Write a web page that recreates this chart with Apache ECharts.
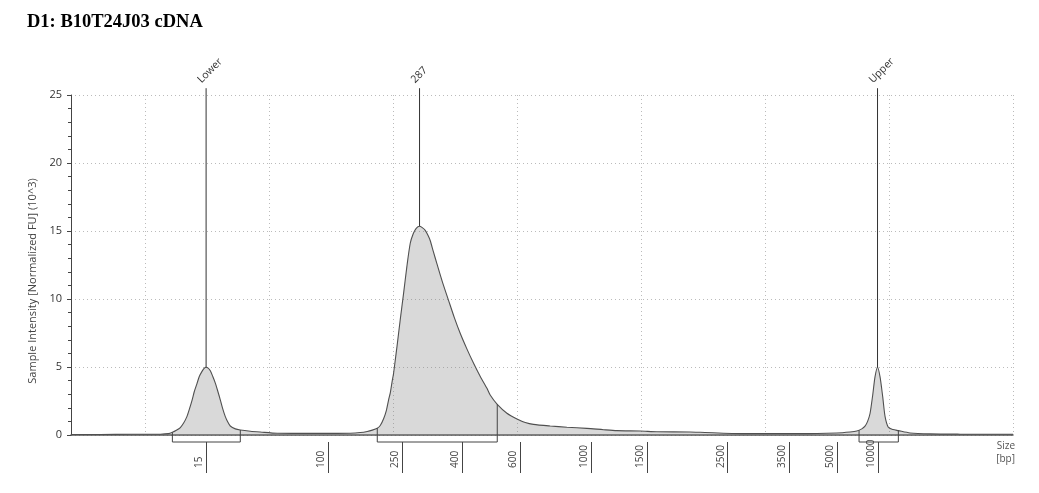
<!DOCTYPE html>
<html>
<head>
<meta charset="utf-8">
<script src="https://cdn.jsdelivr.net/npm/echarts@6/dist/echarts.min.js"></script>
<style>
html,body{margin:0;padding:0;background:#fff;}
#chart{width:1039px;height:493px;}
</style>
</head>
<body>
<div id="chart"></div>
<script>
// Migration position (arbitrary linear units, grid every 10) and intensity (10^3 FU)
const position = [4.0,6.37,8.79,11.21,11.85,12.18,12.5,12.82,13.10,13.35,13.55,13.77,13.95,14.17,14.35,14.57,14.76,14.90,15.04,15.24,15.44,15.65,15.85,16.05,16.25,16.45,16.65,16.85,17.26,17.66,18.47,19.27,20.65,22.5,24.92,26.53,27.34,27.9,28.31,28.71,28.95,29.22,29.44,29.62,29.76,29.92,30.02,30.16,30.30,30.56,30.83,31.10,31.37,31.61,31.85,32.12,32.34,32.58,32.82,32.98,33.23,33.52,33.95,34.46,34.92,35.40,35.93,36.48,37.02,37.56,37.82,38.39,39.17,39.98,40.65,41.31,42.66,44.01,45.62,46.96,48.04,49.92,51.27,53.95,54.76,58.23,62.82,65.78,66.85,67.40,67.80,68.06,68.27,68.47,68.69,68.87,69.07,69.27,69.49,69.68,69.94,70.32,70.75,71.69,73.31,75.73,80.0];
const intensity = [0.04,0.04,0.05,0.06,0.1,0.2,0.35,0.55,0.9,1.35,1.9,2.57,3.2,3.8,4.3,4.68,4.92,4.98,4.93,4.72,4.3,3.8,3.2,2.57,1.9,1.35,0.95,0.66,0.45,0.37,0.28,0.22,0.13,0.12,0.12,0.13,0.18,0.26,0.36,0.5,0.7,1.2,1.8,2.57,3.1,4.0,4.5,5.5,6.5,8.46,10.4,12.4,14.1,14.8,15.2,15.35,15.25,15.05,14.65,14.3,13.5,12.6,11.3,9.9,8.65,7.48,6.35,5.27,4.3,3.43,2.94,2.25,1.6,1.18,0.92,0.78,0.66,0.57,0.49,0.39,0.32,0.29,0.24,0.22,0.2,0.1,0.1,0.15,0.22,0.29,0.45,0.65,1.0,1.6,3.0,4.29,4.98,4.29,2.8,1.35,0.57,0.4,0.32,0.15,0.08,0.06,0.05];

// Size ladder tick positions and labels
const sizeTickPos = [14.90,24.78,30.70,35.54,40.27,45.94,50.48,56.98,61.94,65.81,69.10];
const sizeTickLabels = ['15','100','250','400','600','1000','1500','2500','3500','5000','10000'];
const gridPos = [10,20,30,40,50,60,70,80];

// Peak markers
const markerNames = ['Lower','287','Upper'];
const markerPos = [14.90,32.12,69.07];
const markerPeak = [4.98,15.35,4.98];
const markerTop = 25.5;

// Integration regions
const regionStart = [12.18,28.71,67.58];
const regionEnd = [17.66,38.39,70.75];
const regionStartH = [0.2,0.5,0.36];
const regionEndH = [0.37,2.25,0.32];
const regionBottom = -0.515;

const chart = echarts.init(document.getElementById('chart'));
const txtFont = 'Open Sans';

const curve = position.map((p,i)=>[p,intensity[i]]);

const series = [{
  type:'line', data:curve, smooth:0.25, symbol:'none', clip:false,
  lineStyle:{color:'#505050',width:1.1},
  areaStyle:{color:'rgba(130,130,130,0.3)',opacity:1},
  z:2
}];
markerNames.forEach((n,i)=>{
  series.push({
    type:'line', clip:false, symbol:'circle', symbolSize:0, showSymbol:true,
    lineStyle:{color:'#333',width:1}, itemStyle:{color:'#333'},
    data:[[markerPos[i],markerPeak[i]],{value:[markerPos[i],markerTop],label:{
      show:true, formatter:n, position:'top', distance:0, rotate:45,
      align:'left', verticalAlign:'bottom', offset:[0,-4],
      color:'#333', fontSize:10.5, fontFamily:txtFont
    }}],
    z:5, silent:true
  });
});
regionStart.forEach((s,i)=>{
  series.push({
    type:'line', clip:false, symbol:'none',
    lineStyle:{color:'#444',width:1},
    data:[[s,regionStartH[i]],[s,regionBottom],[regionEnd[i],regionBottom],[regionEnd[i],regionEndH[i]]],
    z:4, silent:true
  });
});

chart.setOption({
  animation:false,
  title:{text:'D1: B10T24J03 cDNA',left:22,top:8,
    textStyle:{fontFamily:'Liberation Serif',fontWeight:'bold',fontSize:18.5,color:'#000'}},
  grid:{left:71,top:95,width:942,height:340,containLabel:false},
  xAxis:[{
    type:'value', min:4, max:80, position:'bottom',
    axisLine:{show:true,lineStyle:{color:'#555',width:1.5}},
    axisTick:{show:false,customValues:gridPos},
    axisLabel:{show:false},
    splitLine:{show:true,lineStyle:{color:'#bbb',type:[1,3],width:1}}
  },{
    type:'value', min:4, max:80, position:'bottom', offset:7,
    axisLine:{show:false},
    axisTick:{show:true,customValues:sizeTickPos,length:31,lineStyle:{color:'#444',width:1}},
    axisLabel:{show:true,customValues:sizeTickPos,rotate:90,align:'left',verticalAlign:'bottom',
      margin:26,padding:[0,0,2,0],fontSize:10,color:'#444',fontFamily:txtFont,
      formatter:(v)=>{const k=sizeTickPos.indexOf(v);return k>=0?sizeTickLabels[k]:'';}},
    splitLine:{show:false},
    name:'Size\n[bp]', nameLocation:'end', nameGap:2,
    nameTextStyle:{align:'right',verticalAlign:'top',fontSize:10,lineHeight:13,color:'#555',fontFamily:txtFont,padding:[-2,0,0,0]}
  }],
  yAxis:{
    type:'value', min:0, max:25, interval:5,
    axisLine:{show:true,lineStyle:{color:'#444',width:1}},
    axisTick:{show:true,length:4,lineStyle:{color:'#444'}},
    minorTick:{show:true,splitNumber:5,length:3,lineStyle:{color:'#444'}},
    axisLabel:{fontSize:11,color:'#333',margin:9,fontFamily:txtFont},
    splitLine:{show:true,lineStyle:{color:'#bbb',type:[1,3],width:1}},
    name:'Sample Intensity [Normalized FU] (10^3)', nameLocation:'middle', nameGap:28,
    nameTextStyle:{fontSize:11,color:'#444',fontFamily:txtFont,padding:[0,32,0,0]}
  },
  series:series
});
</script>
</body>
</html>
